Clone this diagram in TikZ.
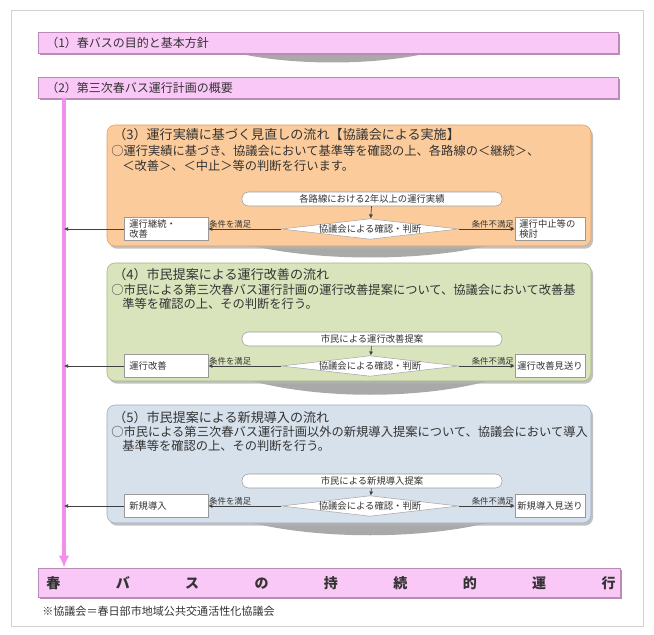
\documentclass[tikz,border=0pt]{standalone}
\usepackage{fontspec}
\setmainfont{Noto Sans CJK JP}
\usetikzlibrary{shapes.geometric,arrows.meta,shadows}
\definecolor{pinkfill}{HTML}{FAC8F7}
\definecolor{pinkedge}{HTML}{B98BB6}
\definecolor{pinkline}{HTML}{F28EEC}
\definecolor{orangefill}{HTML}{FBCB9B}
\definecolor{orangeedge}{HTML}{DDA06C}
\definecolor{greenfill}{HTML}{D9E4BC}
\definecolor{greenedge}{HTML}{A2B27B}
\definecolor{bluefill}{HTML}{D7E1EC}
\definecolor{blueedge}{HTML}{9CABC1}
\definecolor{txt}{HTML}{333333}
\definecolor{lens}{HTML}{A9A9A9}
\begin{document}
\begin{tikzpicture}[x=0.75pt,y=-0.75pt,
  every node/.style={text=txt},
  bar/.style={draw=pinkedge, fill=pinkfill, minimum width=435pt, minimum height=15.75pt, inner sep=0pt,
    drop shadow={shadow xshift=1.2pt, shadow yshift=-1.6pt, fill=pinkedge, opacity=1}},
  stage/.style={rounded corners=6pt, minimum width=363pt, inner sep=0pt,
    drop shadow={shadow xshift=1.5pt, shadow yshift=-2pt, fill=gray!60, opacity=.8}},
  bartext/.style={anchor=west, font=\fontsize{9}{10}\selectfont, inner sep=0pt},
  title/.style={anchor=west, font=\fontsize{9.8}{11}\selectfont, inner sep=0pt},
  body/.style={anchor=west, font=\fontsize{9.2}{10}\selectfont, inner sep=0pt},
  stadium/.style={draw=gray!80, fill=white, rounded corners=5pt, minimum width=195pt, minimum height=10.5pt, inner sep=0pt, font=\fontsize{7}{8}\selectfont},
  judge/.style={shape=diamond, aspect=8.6, draw=gray!70, fill=white, inner sep=0pt, font=\fontsize{7}{8}\selectfont},
  result/.style={draw=gray!80, fill=white, minimum height=17.25pt, inner sep=1.5pt, align=left, font=\fontsize{7}{8}\selectfont},
  cond/.style={inner sep=0.5pt, font=\fontsize{6.3}{7}\selectfont},
  arr/.style={draw=black!75, line width=0.5pt, -{Latex[length=3pt,width=3pt]}},
  lensfill/.style={fill=lens}
]
\useasboundingbox (0,0) rectangle (654,635);
\draw[gray!35] (11,10) rectangle (643,626);

% lenses (drawn first so boxes overlap them)
\fill[lensfill] (232,52) .. controls (290,66) and (375,66) .. (433,52) -- cycle;
\fill[lensfill] (245,244) .. controls (315,262) and (425,262) .. (495,244) -- cycle;
\fill[lensfill] (245,379) .. controls (315,400) and (425,400) .. (495,379) -- cycle;
\fill[lensfill] (245,521) .. controls (315,540) and (425,540) .. (495,521) -- cycle;

% top bars
\node[bar] (b1) at (328,42.5) {};
\node[bartext] (t1) at (46,42.5) {（1）春バスの目的と基本方針};
\node[bar] (b2) at (328,87.5) {};
\node[bartext] (t2) at (46,87.5) {（2）第三次春バス運行計画の概要};

% bottom bar
\node[bar, minimum width=436.5pt, minimum height=21.75pt] (bot) at (329,582.5) {};
\node[inner sep=0pt, font=\fontsize{10.5}{12}\selectfont\bfseries] (bt) at (331,583)
  {\makebox[427pt]{春\hfill バ\hfill ス\hfill の\hfill 持\hfill 続\hfill 的\hfill 運\hfill 行}};

% pink vertical line
\coordinate (ptop) at (64,98);
\draw[pinkline, line width=2.6pt, -{Latex[length=9pt,width=8pt]}] (b2.south -| ptop) -- (bot.north -| ptop);

% ---------- stage 3 ----------
\node[stage, fill=orangefill, draw=orangeedge, minimum height=90.75pt] (s3) at (349,185.5) {};
\node[title] (s3t) at (113,135) {（3）運行実績に基づく見直しの流れ【協議会による実施】};
\node[body] (s3a) at (111,151) {○運行実績に基づき、協議会において基準等を確認の上、各路線の＜継続＞、};
\node[body] (s3b) at (122,165.5) {＜改善＞、＜中止＞等の判断を行います。};
\node[stadium] (st3) at (372,199) {各路線における2年以上の運行実績};
\node[judge] (d3) at (370,229) {協議会による確認・判断};
\node[result, minimum width=63pt, text width=55pt] (lb3) at (166,229) {運行継続・\\改善};
\node[result, minimum width=52.5pt, text width=46pt] (rb3) at (550,229) {運行中止等の\\検討};
\draw[arr] (st3) -- (d3);
\draw[arr] (d3.west) -- (lb3.east);
\draw[arr] (d3.east) -- (rb3.west);
\draw[arr] (lb3.west) -- (lb3.west -| ptop);
\node[cond, anchor=south west] (c3l) at (lb3.east) {条件を満足};
\node[cond, anchor=south east] (c3r) at (rb3.west) {条件不満足};

% ---------- stage 4 ----------
\node[stage, fill=greenfill, draw=greenedge, minimum height=88.5pt] (s4) at (349,322) {};
\node[title] (s4t) at (113,275) {（4）市民提案による運行改善の流れ};
\node[body] (s4a) at (111,290) {○市民による第三次春バス運行計画の運行改善提案について、協議会において改善基};
\node[body] (s4b) at (122,304) {準等を確認の上、その判断を行う。};
\node[stadium] (st4) at (372,339) {市民による運行改善提案};
\node[judge] (d4) at (370,366) {協議会による確認・判断};
\node[result, minimum width=63pt, text width=55pt] (lb4) at (166,366) {運行改善};
\node[result, minimum width=52.5pt, text width=49pt] (rb4) at (550,366) {運行改善見送り};
\draw[arr] (st4) -- (d4);
\draw[arr] (d4.west) -- (lb4.east);
\draw[arr] (d4.east) -- (rb4.west);
\draw[arr] (lb4.west) -- (lb4.west -| ptop);
\node[cond, anchor=south west] (c4l) at (lb4.east) {条件を満足};
\node[cond, anchor=south east] (c4r) at (rb4.west) {条件不満足};

% ---------- stage 5 ----------
\node[stage, fill=bluefill, draw=blueedge, minimum height=88.5pt] (s5) at (349,464) {};
\node[title] (s5t) at (113,418) {（5）市民提案による新規導入の流れ};
\node[body] (s5a) at (111,432) {○市民による第三次春バス運行計画以外の新規導入提案について、協議会において導入};
\node[body] (s5b) at (122,446) {基準等を確認の上、その判断を行う。};
\node[stadium] (st5) at (372,481) {市民による新規導入提案};
\node[judge] (d5) at (370,506) {協議会による確認・判断};
\node[result, minimum width=63pt, text width=55pt] (lb5) at (166,506) {新規導入};
\node[result, minimum width=52.5pt, text width=49pt] (rb5) at (550,506) {新規導入見送り};
\draw[arr] (st5) -- (d5);
\draw[arr] (d5.west) -- (lb5.east);
\draw[arr] (d5.east) -- (rb5.west);
\draw[arr] (lb5.west) -- (lb5.west -| ptop);
\node[cond, anchor=south west] (c5l) at (lb5.east) {条件を満足};
\node[cond, anchor=south east] (c5r) at (rb5.west) {条件不満足};

% footnote
\node[anchor=west, inner sep=0pt, font=\fontsize{8.3}{9}\selectfont] (fn) at (42,611) {※協議会＝春日部市地域公共交通活性化協議会};
\end{tikzpicture}
\end{document}
